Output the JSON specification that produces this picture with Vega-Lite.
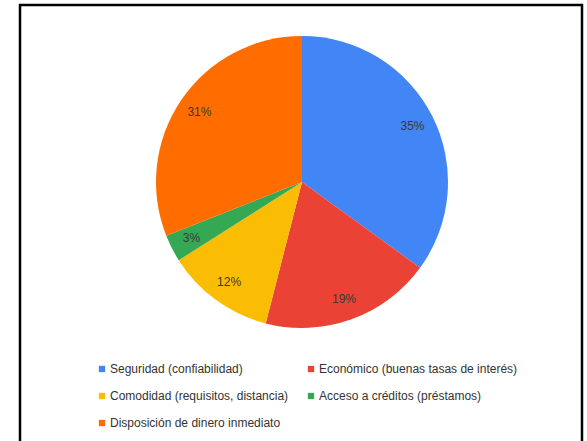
{
  "$schema": "https://vega.github.io/schema/vega-lite/v6.json",
  "width": 562,
  "height": 440,
  "autosize": {"type": "none"},
  "padding": {"left": 20, "top": 5, "right": 5, "bottom": 0},
  "background": "white",
  "config": {
    "view": {"stroke": "black", "strokeWidth": 2.5},
    "font": "Liberation Sans"
  },
  "data": {
    "values": [
      {"categoria": "Seguridad (confiabilidad)", "pct": 35, "orden": 1, "etiqueta": "35%"},
      {"categoria": "Económico (buenas tasas de interés)", "pct": 19, "orden": 2, "etiqueta": "19%"},
      {"categoria": "Comodidad (requisitos, distancia)", "pct": 12, "orden": 3, "etiqueta": "12%"},
      {"categoria": "Acceso a créditos (préstamos)", "pct": 3, "orden": 4, "etiqueta": "3%"},
      {"categoria": "Disposición de dinero inmediato", "pct": 31, "orden": 5, "etiqueta": "31%"}
    ]
  },
  "encoding": {
    "theta": {"field": "pct", "type": "quantitative", "stack": true},
    "order": {"field": "orden", "type": "quantitative"},
    "x": {"value": 282},
    "y": {"value": 177}
  },
  "layer": [
    {
      "mark": {"type": "arc", "outerRadius": 146},
      "encoding": {
        "color": {
          "field": "categoria",
          "type": "nominal",
          "sort": null,
          "scale": {
            "domain": ["Seguridad (confiabilidad)", "Comodidad (requisitos, distancia)", "Disposición de dinero inmediato", "Económico (buenas tasas de interés)", "Acceso a créditos (préstamos)"],
            "range": ["#4285F4", "#FBBC04", "#FF6D01", "#EA4335", "#34A853"]
          },
          "legend": {
            "title": null,
            "orient": "none",
            "legendX": 76,
            "legendY": 358,
            "columns": 2,
            "columnPadding": 16,
            "rowPadding": 15,
            "symbolType": "square",
            "symbolSize": 40,
            "symbolStrokeWidth": 0,
            "labelFontSize": 12,
            "labelColor": "#333333",
            "labelFont": "Liberation Sans",
            "labelOffset": 2,
            "labelLimit": 300
          }
        }
      }
    },
    {
      "mark": {"type": "text", "radius": 124, "fontSize": 12, "fill": "#3a3a3a", "font": "Liberation Sans"},
      "encoding": {
        "text": {"field": "etiqueta", "type": "nominal"}
      }
    }
  ]
}
